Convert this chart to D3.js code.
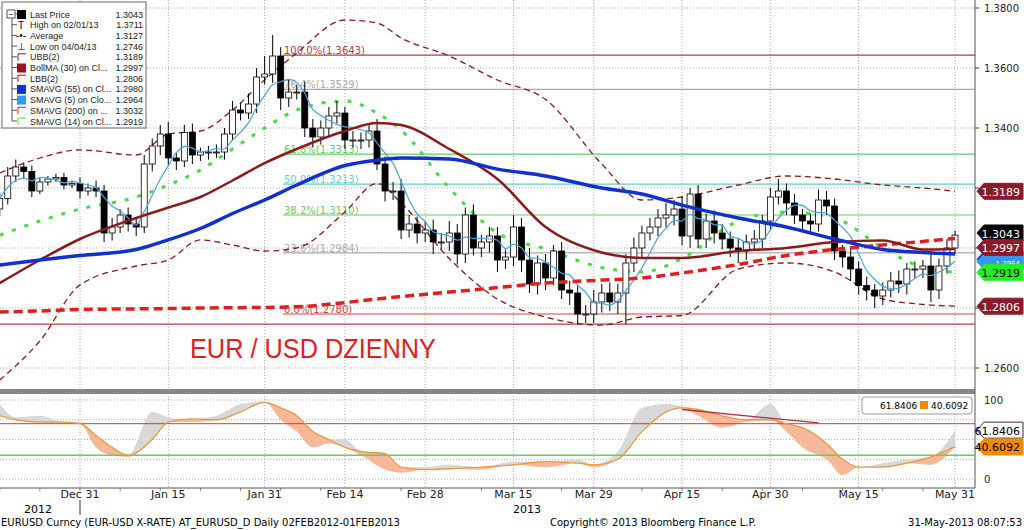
<!DOCTYPE html>
<html><head><meta charset="utf-8">
<script src="https://cdn.jsdelivr.net/npm/d3@7"></script>
<style>body{margin:0;background:#fff;}svg{display:block;font-family:"DejaVu Sans",sans-serif;}</style>
</head><body><svg id="c" width="1024" height="530"></svg>
<script>
// ---- data ----
const closes = [1.3165,1.3240,1.3270,1.3255,1.3190, 1.3220,1.3230,1.3235,1.3210,1.3215, 1.3190,
 1.3200,1.3190,1.3050,1.3070, 1.3110,1.3080,1.3070,1.3280,1.3340, 1.3380,1.3300,1.3290,1.3385,1.3310,
 1.3320,1.3320,1.3320,1.3380,1.3460, 1.3450,1.3480,1.3570,1.3580,1.3640, 1.3500,1.3520,1.3520,1.3400,1.3370,
 1.3400,1.3440,1.3450,1.3360,1.3360, 1.3360,1.3390,1.3280,1.3190,1.3190, 1.3060,1.3080,1.3050,1.3060,1.3020,
 1.3020,1.3050,1.2980,1.3110,1.3000, 1.3020,1.3040,1.2960,1.2970,1.3070, 1.2960,1.2880,1.2950,1.2900,1.2990,
 1.2860,1.2850,1.2780,1.2780,1.2820, 1.2850,1.2820,1.2850,1.2950,1.3000, 1.3050,1.3070,1.3100,1.3110,1.3130,
 1.3040,1.3180,1.3030,1.3090,1.3050, 1.3030,1.3000,1.2990,1.3020,1.3030, 1.3090,1.3170,1.3190,1.3150,1.3110,
 1.3090,1.3080,1.3160,1.3140,1.2990, 1.2970,1.2930,1.2875,1.2860,1.2840, 1.2860,1.2890,1.2880,1.2930,1.2930,
 1.2940,1.2860,1.2940,1.3000,1.3043];
const opens0 = 1.3130;
const upWick = [20,30,25,15,20, 15,10,12,15,10, 20, 15,25,20,30, 20,25,20,30,25, 30,40,20,25,30,
 15,20,25,20,30, 25,35,30,60,70, 30,40,25,35,30, 25,30,40,20,30, 25,20,40,25,30, 40,30,25,30,35,
 30,40,30,25,35, 25,30,30,25,40, 30,40,25,30,20, 30,30,25,30,40, 30,35,30,30,35, 25,30,30,40,30,
 40,20,30,25,35, 30,25,30,25,30, 20,30,40,25,30, 20,25,35,30,25, 20,30,25,30,20, 25,30,35,20,25,
 20,40,25,30,15];
const loWick = [25,20,20,25,20, 10,12,10,15,10, 25, 15,20,30,25, 20,25,30,20,25, 30,25,30,20,30,
 20,25,20,25,20, 25,20,30,25,30, 40,30,25,30,35, 25,30,25,30,25, 30,25,20,35,30, 30,25,35,30,40,
 25,30,35,30,25, 30,35,40,30,30, 40,30,35,40,25, 30,40,35,30,30, 35,30,40,104,30, 30,25,30,30,35,
 30,40,30,30,35, 35,30,40,30,30, 30,30,25,40,30, 30,35,25,30,30, 35,40,30,35,40, 30,25,30,35,30,
 30,40,30,25,20];
const lineIdx = [0,5,10,17,21,25,29,33,37,43,47,50,56,62,68,75,80,85,92,98,104,110,115,119];
const sma200 = [1.2787,1.2790,1.2795,1.2797,1.2798,1.2800,1.2801,1.2802,1.2804,1.2818,1.2830,1.2838,1.2853,1.2868,1.2883,1.2893,1.2900,1.2917,1.2945,1.2975,1.2995,1.3010,1.3022,1.3032];
const sma55  = [1.2943,1.2960,1.2975,1.2995,1.3027,1.3065,1.3115,1.3160,1.3210,1.3275,1.3293,1.3300,1.3297,1.3263,1.3240,1.3200,1.3180,1.3143,1.3100,1.3070,1.3030,1.2995,1.2985,1.2980];
const bollMA = [1.2883,1.2960,1.3030,1.3100,1.3135,1.3170,1.3225,1.3283,1.3330,1.3390,1.3417,1.3410,1.3330,1.3230,1.3070,1.2985,1.2967,1.2967,1.2990,1.3000,1.3020,1.3025,1.2995,1.2997];
const ubb    = [1.3250,1.3300,1.3327,1.3310,1.3380,1.3390,1.3460,1.3560,1.3650,1.3760,1.3750,1.3700,1.3640,1.3560,1.3495,1.3280,1.3160,1.3170,1.3210,1.3240,1.3230,1.3210,1.3200,1.3189];
const lbb    = [1.2560,1.2690,1.2877,1.2940,1.2960,1.3027,1.3010,1.2990,1.3000,1.3120,1.3215,1.3150,1.2965,1.2830,1.2770,1.2743,1.2770,1.2775,1.2930,1.2950,1.2920,1.2830,1.2812,1.2806];
const sma14  = [1.3043,1.3090,1.3130,1.3170,1.3210,1.3260,1.3330,1.3400,1.3460,1.3490,1.3450,1.3393,1.3200,1.3050,1.2997,1.2935,1.2920,1.2965,1.3090,1.3120,1.3100,1.3000,1.2935,1.2919];
const fibLevels = [1.3643,1.3529,1.3313,1.3213,1.3110,1.2984,1.2780];
const fibLabels = ["100.0%(1.3643)","76.4%(1.3529)","61.8%(1.3313)","50.0%(1.3213)","38.2%(1.3110)","23.6%(1.2984)","0.0%(1.2780)"];
const fibColors = ["#b04040","#aaaaaa","#66cc66","#66cccc","#66cc66","#aaaaaa","#cc4444"];
const lowLine = 1.2746;
const priceTicks = [1.26,1.28,1.30,1.32,1.34,1.36,1.38];
const shownPriceLabels = [1.26,1.34,1.36,1.38];
const dateTicks = [["Dec 31",10],["Jan 15",21],["Jan 31",33],["Feb 14",43],["Feb 28",53],["Mar 15",64],["Mar 29",74],["Apr 15",85],["Apr 30",96],["May 15",107],["May 31",119]];
const stIdx = [0,2,5,8,10,12,14,16,19,21,24,27,30,33,35,37,39,41,43,45,48,50,53,56,60,64,68,72,74,77,80,83,85,87,90,93,96,98,100,103,105,107,110,113,116,119];
const stD = [80,75,72,72,70,55,40,30,50,72,76,75,85,97,90,80,60,50,40,35,32,15,12,13,15,18,22,20,18,25,60,85,90,88,80,75,75,70,65,45,25,15,15,20,28,41];
const stK = [95,78,80,72,72,40,30,28,85,78,72,80,95,98,75,60,40,45,50,30,12,8,15,18,12,22,15,25,15,35,90,95,92,80,65,72,95,60,40,25,5,15,20,25,18,62];
const stLegend = ["61.8406","40.6092"];

// ---- drawing ----
const svg = d3.select("#c");
const W = 975;
const x = d3.scaleLinear().domain([10,119]).range([80,955]);
const y = d3.scaleLinear().domain([1.26,1.38]).range([368,8]);
const ys = d3.scaleLinear().domain([0,100]).range([479,400]);
const fmt = d3.format(".4f");
svg.append("defs").append("clipPath").attr("id","cp").append("rect").attr("x",0).attr("y",0).attr("width",W).attr("height",388);

const g = svg.append("g");
priceTicks.forEach(t=>g.append("line").attr("x1",0).attr("x2",W).attr("y1",y(t)).attr("y2",y(t)).attr("stroke","#aaa").attr("stroke-dasharray","1,2"));
[0,25,50,75,100].forEach(t=>g.append("line").attr("x1",0).attr("x2",W).attr("y1",ys(t)).attr("y2",ys(t)).attr("stroke","#aaa").attr("stroke-dasharray","1,2"));
dateTicks.forEach(d=>{g.append("line").attr("x1",x(d[1])).attr("x2",x(d[1])).attr("y1",0).attr("y2",488).attr("stroke","#aaa").attr("stroke-dasharray","1,2");});
for(let i=0;i<120;i+=5) g.append("line").attr("x1",x(i)).attr("x2",x(i)).attr("y1",488).attr("y2",491).attr("stroke","#888");

fibLevels.forEach((v,i)=>{
  g.append("line").attr("x1",283).attr("x2",W).attr("y1",y(v)).attr("y2",y(v)).attr("stroke",fibColors[i]).attr("stroke-width",1.2);
  g.append("text").attr("x",284).attr("y",y(v)-1).attr("fill",fibColors[i]).attr("font-size",10).text(fibLabels[i]);
});
g.append("line").attr("x1",0).attr("x2",W).attr("y1",y(lowLine)).attr("y2",y(lowLine)).attr("stroke","#b04040").attr("stroke-width",1.2);

const main = svg.append("g").attr("clip-path","url(#cp)");
const curve = d3.curveMonotoneX;
const ln = (arr)=>d3.line().x((d,i)=>x(lineIdx[i])).y(d=>y(d)).curve(curve)(arr);
main.append("path").attr("d",ln(ubb)).attr("fill","none").attr("stroke","#8b1a1a").attr("stroke-width",1.3).attr("stroke-dasharray","6,4");
main.append("path").attr("d",ln(lbb)).attr("fill","none").attr("stroke","#8b1a1a").attr("stroke-width",1.3).attr("stroke-dasharray","6,4");
main.append("path").attr("d",ln(sma14)).attr("fill","none").attr("stroke","#44dd44").attr("stroke-width",3).attr("stroke-dasharray","4,9");

const sma5 = closes.map((c,i)=>d3.mean(closes.slice(Math.max(0,i-4),i+1)));
const opens = closes.map((c,i)=>i===0?opens0:closes[i-1]);
const cg = main.append("g");
closes.forEach((c,i)=>{
  const o=opens[i], hi=Math.max(o,c)+upWick[i]/10000, lo=Math.min(o,c)-loWick[i]/10000;
  const cx=x(i);
  cg.append("line").attr("x1",cx).attr("x2",cx).attr("y1",y(hi)).attr("y2",y(lo)).attr("stroke","#000");
  const top=y(Math.max(o,c)), h=Math.max(1,Math.abs(y(o)-y(c)));
  cg.append("rect").attr("x",cx-3).attr("y",top).attr("width",6).attr("height",h).attr("fill",c>=o?"#fff":"#000").attr("stroke","#000").attr("stroke-width",0.8);
});
main.append("path").attr("d",d3.line().x((d,i)=>x(i)).y(d=>y(d)).curve(d3.curveCatmullRom)(sma5)).attr("fill","none").attr("stroke","#4aa3df").attr("stroke-width",1.2);
main.append("path").attr("d",ln(sma200)).attr("fill","none").attr("stroke","#e02020").attr("stroke-width",3.5).attr("stroke-dasharray","9,5");
main.append("path").attr("d",ln(bollMA)).attr("fill","none").attr("stroke","#8b1a1a").attr("stroke-width",2.5);
main.append("path").attr("d",ln(sma55)).attr("fill","none").attr("stroke","#1030d0").attr("stroke-width",3.5);

svg.append("text").attr("x",190).attr("y",358).attr("fill","#e02020").attr("font-family","Liberation Sans, Arial").attr("font-size",27).attr("textLength",246).attr("lengthAdjust","spacingAndGlyphs").text("EUR / USD DZIENNY");

// legend
const lg = svg.append("g").attr("font-family","Liberation Sans, Arial");
lg.append("rect").attr("x",2).attr("y",2).attr("width",144).attr("height",126).attr("fill","#fff").attr("stroke","#999").attr("stroke-width",1.5);
const legendRows = [["Last Price","1.3043","#000","box"],["High on 02/01/13","1.3711","#000","T"],["Average","1.3127","#000","avg"],["Low on 04/04/13","1.2746","#000","L"],
 ["UBB(2)","1.3189","#8b1a1a","line"],["BollMA (30) on Cl...","1.2997","#a01020","box"],["LBB(2)","1.2806","#8b1a1a","line"],["SMAVG (55) on Cl...","1.2980","#1030d0","box"],
 ["SMAVG (5) on Clo...","1.2964","#3399ee","box"],["SMAVG (200) on ...","1.3032","#e02020","line"],["SMAVG (14) on Cl...","1.2919","#44dd44","line"]];
lg.append("line").attr("x1",12).attr("x2",12).attr("y1",14).attr("y2",121).attr("stroke","#555");
legendRows.forEach((r,i)=>{
  const yy=14+i*10.7;
  lg.append("line").attr("x1",12).attr("x2",17).attr("y1",yy).attr("y2",yy).attr("stroke","#555");
  if(r[3]==="box") lg.append("rect").attr("x",17).attr("y",yy-4).attr("width",9).attr("height",9).attr("fill",r[2]);
  else if(r[3]==="line") lg.append("path").attr("d",`M18,${yy+4}V${yy-3}H26`).attr("fill","none").attr("stroke",r[2]);
  else lg.append("text").attr("x",21).attr("y",yy+4).attr("font-size",10).attr("text-anchor","middle").text(r[3]==="T"?"T":r[3]==="L"?"⊥":"-•-");
  lg.append("text").attr("x",30).attr("y",yy+3.5).attr("font-size",9).attr("fill","#222").text(r[0]);
  lg.append("text").attr("x",143).attr("y",yy+3.5).attr("font-size",9).attr("text-anchor","end").attr("fill","#222").text(r[1]);
});
lg.append("rect").attr("x",7).attr("y",10).attr("width",8).attr("height",8).attr("fill","#fff").attr("stroke","#555");
lg.append("text").attr("x",11).attr("y",17).attr("font-size",8).attr("text-anchor","middle").text("−");

svg.append("rect").attr("x",0).attr("y",389).attr("width",W).attr("height",5).attr("fill","#888");
svg.append("line").attr("x1",W).attr("x2",W).attr("y1",0).attr("y2",488).attr("stroke","#555");
svg.append("line").attr("x1",0).attr("x2",W).attr("y1",488).attr("y2",488).attr("stroke","#555");

priceTicks.forEach(t=>{svg.append("line").attr("x1",W).attr("x2",W+4).attr("y1",y(t)).attr("y2",y(t)).attr("stroke","#333");
 if(shownPriceLabels.includes(t)) svg.append("text").attr("x",984).attr("y",y(t)+4).attr("font-size",10).attr("fill","#222").text(fmt(t));});
[0,100].forEach(t=>{svg.append("text").attr("x",984).attr("y",ys(t)+4).attr("font-size",10).attr("fill","#222").text(t);});
function tag(v,yy,bg,fg,stroke,fs){
  const p=`M${W+2},${yy} L${W+9},${yy-8} H1023 V${yy+8} H${W+9} Z`;
  svg.append("path").attr("d",p).attr("fill",bg).attr("stroke",stroke||bg);
  svg.append("text").attr("x",1020).attr("y",yy+4.5).attr("text-anchor","end").attr("font-size",fs||11).attr("fill",fg).text(v);
}
tag("1.2980",y(1.2962),"#1030d0","#fff",null,7);
tag("1.2964",y(1.2954),"#3399ee","#fff",null,7);
tag("1.3189",y(1.3189),"#8b1a2a","#fff");
tag("1.3043",y(1.3050),"#000","#fff");
tag("1.2997",y(1.3002),"#8b1a2a","#fff");
tag("1.2919",y(1.2919),"#22ee22","#000");
tag("1.2806",y(1.2806),"#8b1a2a","#fff");
tag(stLegend[0],ys(61.84),"#fff","#000","#333");
tag(stLegend[1],ys(40.61),"#f08a00","#000");

const sx = (d,i)=>x(stIdx[i]);
const dk = stD.map((d,i)=>({d,k:stK[i]}));
const aC = d3.curveMonotoneX;
svg.append("path").attr("d",d3.area().x(sx).y0(p=>ys(p.d)).y1(p=>ys(Math.max(p.k,p.d))).curve(aC)(dk)).attr("fill","#d8d8d8");
svg.append("path").attr("d",d3.area().x(sx).y0(p=>ys(p.d)).y1(p=>ys(Math.min(p.k,p.d))).curve(aC)(dk)).attr("fill","#f7b89a");
svg.append("line").attr("x1",0).attr("x2",W).attr("y1",ys(70)).attr("y2",ys(70)).attr("stroke","#c04040");
svg.append("line").attr("x1",0).attr("x2",W).attr("y1",ys(30)).attr("y2",ys(30)).attr("stroke","#66cc66").attr("stroke-width",1.5);
svg.append("path").attr("d",d3.line().x(sx).y(d=>ys(d)).curve(aC)(stD)).attr("fill","none").attr("stroke","#e89a40").attr("stroke-width",1.3);
svg.append("line").attr("x1",x(85)).attr("x2",x(102)).attr("y1",ys(88)).attr("y2",ys(71)).attr("stroke","#b03040").attr("stroke-width",1.3);
svg.append("rect").attr("x",862).attr("y",397).attr("width",110).attr("height",17).attr("rx",3).attr("fill","#fff").attr("stroke","#999");
svg.append("text").attr("x",880).attr("y",409).attr("font-size",9).text(stLegend[0]);
svg.append("rect").attr("x",920).attr("y",401).attr("width",8).attr("height",8).attr("fill","#f08a00");
svg.append("text").attr("x",931).attr("y",409).attr("font-size",9).text(stLegend[1]);

dateTicks.forEach(d=>svg.append("text").attr("x",x(d[1])).attr("y",498).attr("text-anchor","middle").attr("font-size",11).attr("fill","#222").text(d[0]));
svg.append("line").attr("x1",80).attr("x2",80).attr("y1",500).attr("y2",515).attr("stroke","#333");
svg.append("text").attr("x",38).attr("y",513).attr("text-anchor","middle").attr("font-size",11).text("2012");
svg.append("text").attr("x",527).attr("y",513).attr("text-anchor","middle").attr("font-size",11).text("2013");
svg.append("text").attr("x",1).attr("y",526).attr("font-size",10).text("EURUSD Curncy (EUR-USD X-RATE) AT_EURUSD_D  Daily 02FEB2012-01FEB2013");
svg.append("text").attr("x",550).attr("y",526).attr("font-size",10).text("Copyright© 2013 Bloomberg Finance L.P.");
svg.append("text").attr("x",1022).attr("y",526).attr("text-anchor","end").attr("font-size",10).text("31-May-2013 08:07:53");
</script></body></html>
